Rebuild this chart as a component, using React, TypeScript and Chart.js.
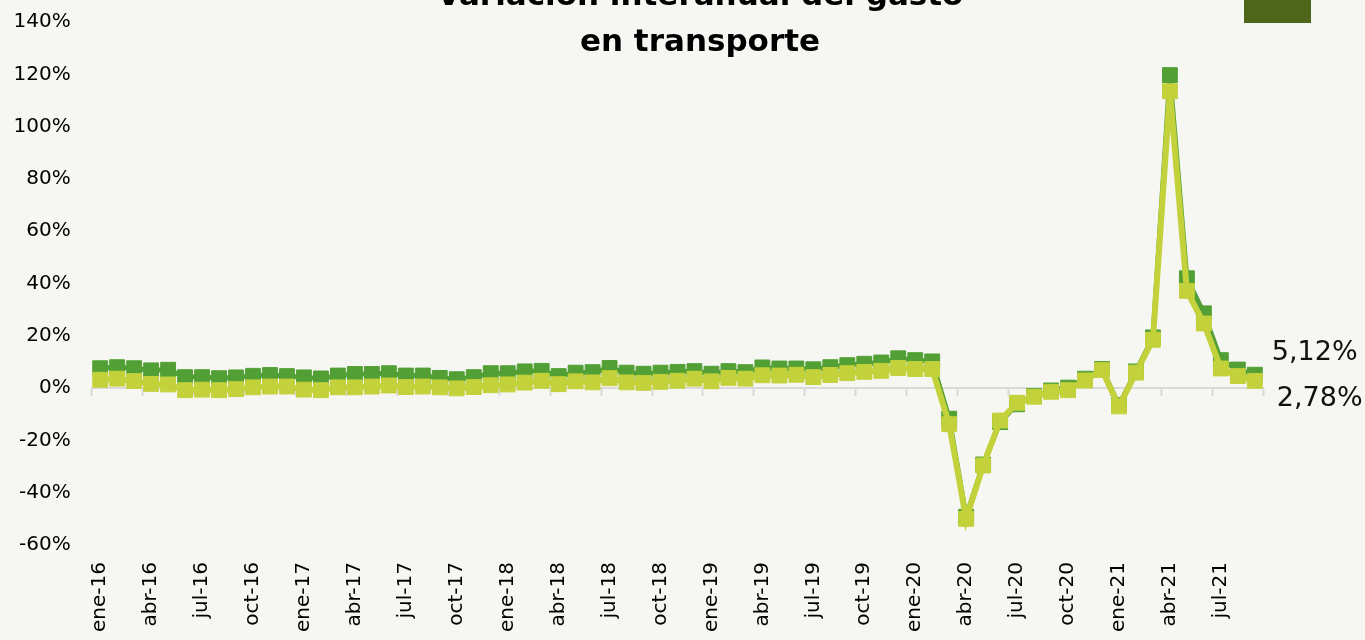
import React, { useEffect, useRef } from 'react';
import { Chart, registerables } from 'chart.js';

Chart.register(...registerables);

// ---- Data ----
const MONTHS = ['ene', 'feb', 'mar', 'abr', 'may', 'jun', 'jul', 'ago', 'sep', 'oct', 'nov', 'dic'];
const YEARS = ['16', '17', '18', '19', '20', '21'];
const LAST_LABEL = 'sep-21';

const CATEGORIES: string[] = [];
outer: for (const y of YEARS) {
  for (const m of MONTHS) {
    const lab = `${m}-${y}`;
    CATEGORIES.push(lab);
    if (lab === LAST_LABEL) break outer;
  }
}

const SERIES_A_NAME = 'Gasto nominal';
const SERIES_A = [
  7.6, 8.0, 7.6, 6.8, 7.0, 4.2, 4.2, 3.8, 4.1, 4.7, 5.0, 4.6,
  4.1, 3.7, 4.8, 5.4, 5.4, 5.7, 4.8, 4.8, 3.9, 3.4, 4.2, 5.7,
  5.7, 6.4, 6.6, 4.6, 5.9, 6.1, 7.7, 5.9, 5.5, 5.9, 6.2, 6.5,
  5.5, 6.5, 6.1, 7.9, 7.5, 7.5, 7.2, 8.0, 8.8, 9.3, 9.8, 11.4,
  10.7, 10.2, -11.7, -49.2, -29.2, -13.0, -6.2, -3.0, -0.9, 0.2, 3.6, 7.3,
  -6.5, 6.4, 19.4, 119.7, 42.0, 28.6, 10.7, 7.1, 5.12,
];

const SERIES_B_NAME = 'Gasto real';
const SERIES_B = [
  3.2, 3.6, 2.7, 1.6, 1.4, -0.8, -0.6, -0.8, -0.4, 0.3, 0.6, 0.6,
  -0.6, -0.8, 0.3, 0.3, 0.6, 1.0, 0.4, 0.6, 0.3, -0.1, 0.4, 1.1,
  1.4, 2.1, 2.8, 1.5, 2.6, 2.2, 3.8, 2.2, 2.0, 2.4, 2.8, 3.6,
  2.6, 3.9, 3.6, 4.9, 4.8, 5.1, 4.2, 5.0, 5.7, 6.2, 6.6, 7.7,
  7.3, 7.3, -13.8, -50.0, -29.6, -12.4, -5.6, -3.3, -1.4, -0.8, 2.9, 6.9,
  -7.0, 5.9, 18.5, 113.5, 37.2, 24.7, 7.5, 4.6, 2.78,
];

const TITLE_LINES = ['Variación interanual del gasto', 'en transporte'];
const Y_MIN = -60;
const Y_MAX = 140;
const Y_STEP = 20;
const TICK_EVERY = 3;

// ---- Styles ----
const BG = '#f6f6f2';
const GREEN = '#52a035';
const YELLOW = '#c3d13b';
const AXIS_GRAY = '#d9d9d9';
const FONT = '"DejaVu Sans", "Liberation Sans", sans-serif';
const CANVAS_W = 1400;
const CANVAS_H = 700;

const END_OFFSETS = [
  { dx: 17, dy: -22 },
  { dx: 22, dy: 18 },
];

const endLabelsPlugin = {
  id: 'endLabels',
  afterDatasetsDraw(chart: any) {
    const ctx = chart.ctx;
    chart.data.datasets.forEach((ds: any, di: number) => {
      const meta = chart.getDatasetMeta(di);
      const pt = meta.data[meta.data.length - 1];
      if (!pt) return;
      const v = ds.data[ds.data.length - 1] as number;
      const text = v.toFixed(2).replace('.', ',') + '%';
      const off = END_OFFSETS[di];
      ctx.save();
      ctx.font = `27px ${FONT}`;
      ctx.fillStyle = '#111111';
      ctx.textAlign = 'left';
      ctx.textBaseline = 'middle';
      ctx.fillText(text, pt.x + off.dx, pt.y + off.dy);
      ctx.restore();
    });
  },
};

export default function App() {
  const canvasRef = useRef<HTMLCanvasElement | null>(null);

  useEffect(() => {
    if (!canvasRef.current) return;
    const chart = new Chart(canvasRef.current, {
      type: 'line',
      data: {
        labels: CATEGORIES,
        datasets: [
          {
            label: SERIES_A_NAME,
            data: SERIES_A,
            borderColor: GREEN,
            backgroundColor: GREEN,
            borderWidth: 5,
            pointStyle: 'rect',
            pointRadius: 10.5,
            pointBorderWidth: 1,
            pointBackgroundColor: GREEN,
            pointBorderColor: GREEN,
            tension: 0,
            order: 1,
            xAxisID: 'x',
            yAxisID: 'y',
          },
          {
            label: SERIES_B_NAME,
            data: SERIES_B,
            borderColor: YELLOW,
            backgroundColor: YELLOW,
            borderWidth: 6,
            pointStyle: 'rect',
            pointRadius: 10.5,
            pointBorderWidth: 1,
            pointBackgroundColor: YELLOW,
            pointBorderColor: YELLOW,
            tension: 0,
            order: 0,
            xAxisID: 'x',
            yAxisID: 'y',
          },
        ],
      },
      options: {
        responsive: false,
        animation: false,
        devicePixelRatio: 1,
        layout: { padding: { left: 0, right: 0, top: 0, bottom: 0 } },
        plugins: {
          legend: { display: false },
          tooltip: { enabled: false },
          title: {
            display: true,
            text: TITLE_LINES,
            color: '#000000',
            font: { family: FONT, size: 31, weight: 'bold', lineHeight: 46 / 31 },
            padding: { top: -26, bottom: -44 },
          },
        },
        scales: {
          x: {
            type: 'category',
            position: 'bottom',
            offset: true,
            grid: { display: false, drawTicks: false },
            border: { display: false },
            ticks: {
              autoSkip: false,
              minRotation: 90,
              maxRotation: 90,
              padding: 17,
              color: '#000000',
              font: { family: FONT, size: 20 },
              callback: (_v: any, i: number) => (i % TICK_EVERY === 0 ? CATEGORIES[i] : ''),
            },
            afterFit: (s: any) => {
              s.height = CANVAS_H - 545;
            },
          },
          x2: {
            type: 'category',
            axis: 'x',
            position: { y: 0 },
            offset: true,
            grid: {
              offset: true,
              drawOnChartArea: false,
              drawTicks: true,
              tickLength: 7,
              tickWidth: 2,
              tickColor: (c: any) =>
                c.index === undefined || c.index % TICK_EVERY === 0 ? AXIS_GRAY : 'rgba(0,0,0,0)',
            },
            border: { display: true, color: AXIS_GRAY, width: 2 },
            ticks: { display: false, autoSkip: false },
          },
          y: {
            type: 'linear',
            position: 'left',
            min: Y_MIN,
            max: Y_MAX,
            grid: {
              display: true,
              drawOnChartArea: false,
              drawTicks: true,
              tickLength: 21,
              tickColor: 'rgba(0,0,0,0)',
            },
            border: { display: false },
            ticks: {
              stepSize: Y_STEP,
              padding: 0,
              color: '#000000',
              font: { family: FONT, size: 20 },
              callback: (v: any) => `${v}%`,
            },
            afterFit: (s: any) => {
              s.width = 91.7;
            },
          },
          yRight: {
            type: 'linear',
            position: 'right',
            min: Y_MIN,
            max: Y_MAX,
            grid: { display: false, drawTicks: false },
            border: { display: false },
            ticks: { display: false },
            afterFit: (s: any) => {
              s.width = CANVAS_W - 1263.3;
            },
          },
        },
      },
      plugins: [endLabelsPlugin],
    } as any);
    return () => chart.destroy();
  }, []);

  return (
    <div
      style={{
        position: 'fixed',
        left: 0,
        top: 0,
        width: 1365,
        height: 640,
        overflow: 'hidden',
        background: BG,
      }}
    >
      <canvas
        ref={canvasRef}
        width={CANVAS_W}
        height={CANVAS_H}
        style={{ position: 'absolute', left: 0, top: 0, width: CANVAS_W, height: CANVAS_H }}
      />
      <div
        style={{
          position: 'absolute',
          left: 1244,
          top: 0,
          width: 67,
          height: 23,
          background: '#4e661c',
        }}
      />
    </div>
  );
}
